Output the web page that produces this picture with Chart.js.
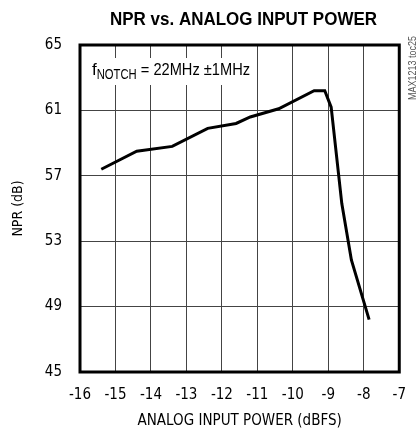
<!DOCTYPE html>
<html>
<head>
<meta charset="utf-8">
<script src="https://cdn.jsdelivr.net/npm/chart.js@4"></script>
<style>
  html, body { margin: 0; padding: 0; background: #fff; }
  #wrap { width: 420px; height: 434px; }
</style>
</head>
<body>
<div id="wrap"><canvas id="nprChart" width="420" height="434"></canvas></div>
<script>
const inputPower = [-15.4, -14.4, -13.4, -12.4, -11.6, -11.2, -10.4, -9.4, -9.1, -8.92, -8.62, -8.35, -7.85];
const nprValues = [57.4, 58.5, 58.8, 59.9, 60.2, 60.6, 61.1, 62.2, 62.2, 61.2, 55.3, 51.85, 48.2];
const xTicks = [-16, -15, -14, -13, -12, -11, -10, -9, -8, -7];
const yTicks = [45, 49, 53, 57, 61, 65];

const fontFam = '"Liberation Sans", sans-serif';
const axisFam = '"DejaVu Sans Condensed", "Liberation Sans", sans-serif';

var points = [];
for (let i = 0; i < inputPower.length; i++) {
    points.push({ x: inputPower[i], y: nprValues[i] });
}

// draw text squeezed to a given width (reference uses a condensed face)
function squeezed(c, text, x, y, width) {
    const w = c.measureText(text).width;
    const k = Math.min(1, width / w);
    c.save();
    c.translate(x, y);
    c.scale(k, 1);
    c.fillText(text, 0, 0);
    c.restore();
    return w * k;
}

// title, notch label, box frame and side code are drawn by hand
const decorations = {
    id: 'decorations',
    beforeDatasetsDraw(chart) {
        const c = chart.ctx, a = chart.chartArea;
        c.save();
        c.fillStyle = '#fff';
        c.fillRect(a.left + 2, 58, 174, 27);
        c.restore();
    },
    afterDraw(chart) {
        const c = chart.ctx, a = chart.chartArea;
        c.save();
        c.strokeStyle = '#000';
        c.lineWidth = 3;
        c.strokeRect(a.left, a.top, a.right - a.left, a.bottom - a.top);

        c.fillStyle = '#000';
        c.textBaseline = 'alphabetic';
        c.textAlign = 'left';
        c.font = 'bold 19px ' + fontFam;
        squeezed(c, 'NPR vs. ANALOG INPUT POWER', 110, 25, 267);

        // f_NOTCH = 22MHz ±1MHz
        let x = 92;
        const base = 75;
        c.font = '17px ' + fontFam;
        x += squeezed(c, 'f', x, base, 5);
        c.font = '14px ' + fontFam;
        x += squeezed(c, 'NOTCH', x, base + 4, 40);
        c.font = '17px ' + fontFam;
        squeezed(c, ' = 22MHz \u00B11MHz', x, base, 250 - x);

        c.translate(416, 100);
        c.rotate(-Math.PI / 2);
        c.fillStyle = '#555';
        c.font = '10px ' + fontFam;
        squeezed(c, 'MAX1213 toc25', 0, 0, 64);
        c.restore();
    }
};

var ctx = document.getElementById('nprChart').getContext('2d');
var nprChart = new Chart(ctx, {
    type: 'line',
    data: {
        datasets: [{
            data: points,
            borderColor: '#000',
            borderWidth: 3,
            pointRadius: 0,
            tension: 0,
            fill: false
        }]
    },
    options: {
        responsive: false,
        animation: false,
        layout: { padding: { top: 45, right: 11, left: 6, bottom: 0 } },
        plugins: {
            legend: { display: false },
            title: { display: false },
            tooltip: { enabled: false }
        },
        scales: {
            x: {
                type: 'linear',
                min: -16,
                max: -7,
                afterBuildTicks: s => { s.ticks = xTicks.map(v => ({ value: v })); },
                afterFit: s => { s.height = 62; },
                border: { display: false },
                grid: { color: '#444', lineWidth: 1, drawTicks: false },
                ticks: {
                    color: '#000',
                    padding: 14,
                    font: { family: axisFam, size: 15 },
                    callback: v => v
                },
                title: {
                    display: true,
                    text: 'ANALOG INPUT POWER (dBFS)',
                    color: '#000',
                    font: { family: axisFam, size: 15 },
                    padding: { top: 0 }
                }
            },
            y: {
                min: 45,
                max: 65,
                afterBuildTicks: s => { s.ticks = yTicks.map(v => ({ value: v })); },
                afterFit: s => { s.width = 74; },
                border: { display: false },
                grid: { color: '#444', lineWidth: 1, drawTicks: false },
                ticks: {
                    color: '#000',
                    padding: 18,
                    font: { family: axisFam, size: 15 }
                },
                title: {
                    display: true,
                    text: 'NPR (dB)',
                    color: '#000',
                    font: { family: axisFam, size: 14 },
                    padding: { bottom: 0 }
                }
            }
        }
    },
    plugins: [decorations]
});
</script>
</body>
</html>
